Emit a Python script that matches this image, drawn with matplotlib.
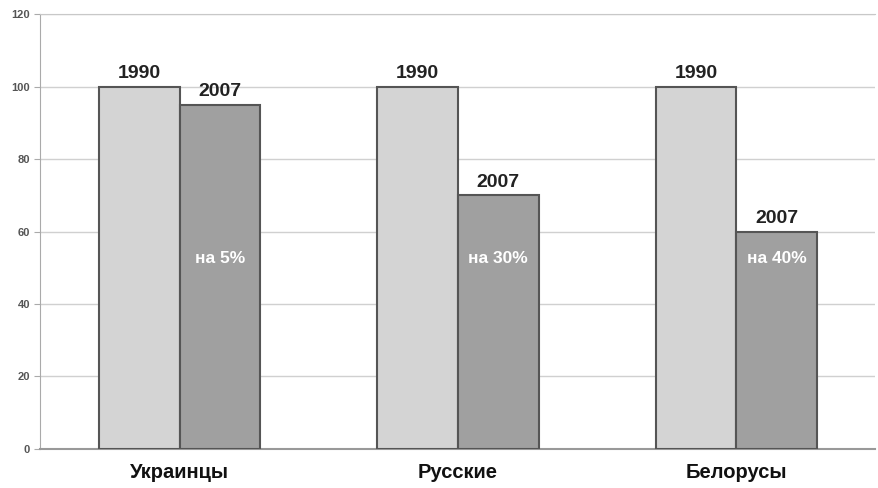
import matplotlib.pyplot as plt
import numpy as np

plt.rcParams['font.family'] = ['Liberation Sans', 'DejaVu Sans']

# данные
groups = ["Украинцы", "Русские", "Белорусы"]
years = ["1990", "2007"]
val_1990 = [100, 100, 100]
val_2007 = [95, 70, 60]
drops = ["на 5%", "на 30%", "на 40%"]

fig = plt.figure(figsize=(8.79, 4.88), dpi=100)
ax = fig.add_axes([0.046, 0.08, 0.95, 0.891])

x = np.arange(len(groups))
w = 0.29

ax.bar(x - w/2, val_1990, w, color="#d4d4d4", edgecolor="#555555",
       linewidth=1.5, zorder=3)
ax.bar(x + w/2, val_2007, w, color="#a0a0a0", edgecolor="#555555",
       linewidth=1.5, zorder=3)

for i in range(len(groups)):
    ax.text(x[i] - w/2, val_1990[i] + 1.2, years[0], ha="center", va="bottom",
            fontsize=14, fontweight="bold", color="#222222")
    ax.text(x[i] + w/2, val_2007[i] + 1.2, years[1], ha="center", va="bottom",
            fontsize=14, fontweight="bold", color="#222222")
    ax.text(x[i] + w/2, 52.5, drops[i], ha="center", va="center",
            fontsize=12.5, fontweight="bold", color="white")

ax.set_xlim(-0.5, 2.5)
ax.set_ylim(0, 120)
ax.set_yticks(range(0, 121, 20))
ax.set_xticks(x)
ax.set_xticklabels(groups, fontsize=14.5, fontweight="bold", color="#111111")
ax.tick_params(axis="x", length=0, pad=10)
ax.tick_params(axis="y", length=4, labelsize=8, labelcolor="#555555", color="#aaaaaa")
for lab in ax.get_yticklabels():
    lab.set_fontweight("bold")

ax.yaxis.grid(True, color="#d0d0d0", linewidth=1, zorder=0)
ax.spines["right"].set_visible(False)
ax.spines["left"].set_color("#aaaaaa")
ax.spines["top"].set_color("#c8c8c8")
ax.spines["bottom"].set_color("#999999")
ax.spines["bottom"].set_linewidth(1.5)

fig.savefig("out.png", dpi=100)
